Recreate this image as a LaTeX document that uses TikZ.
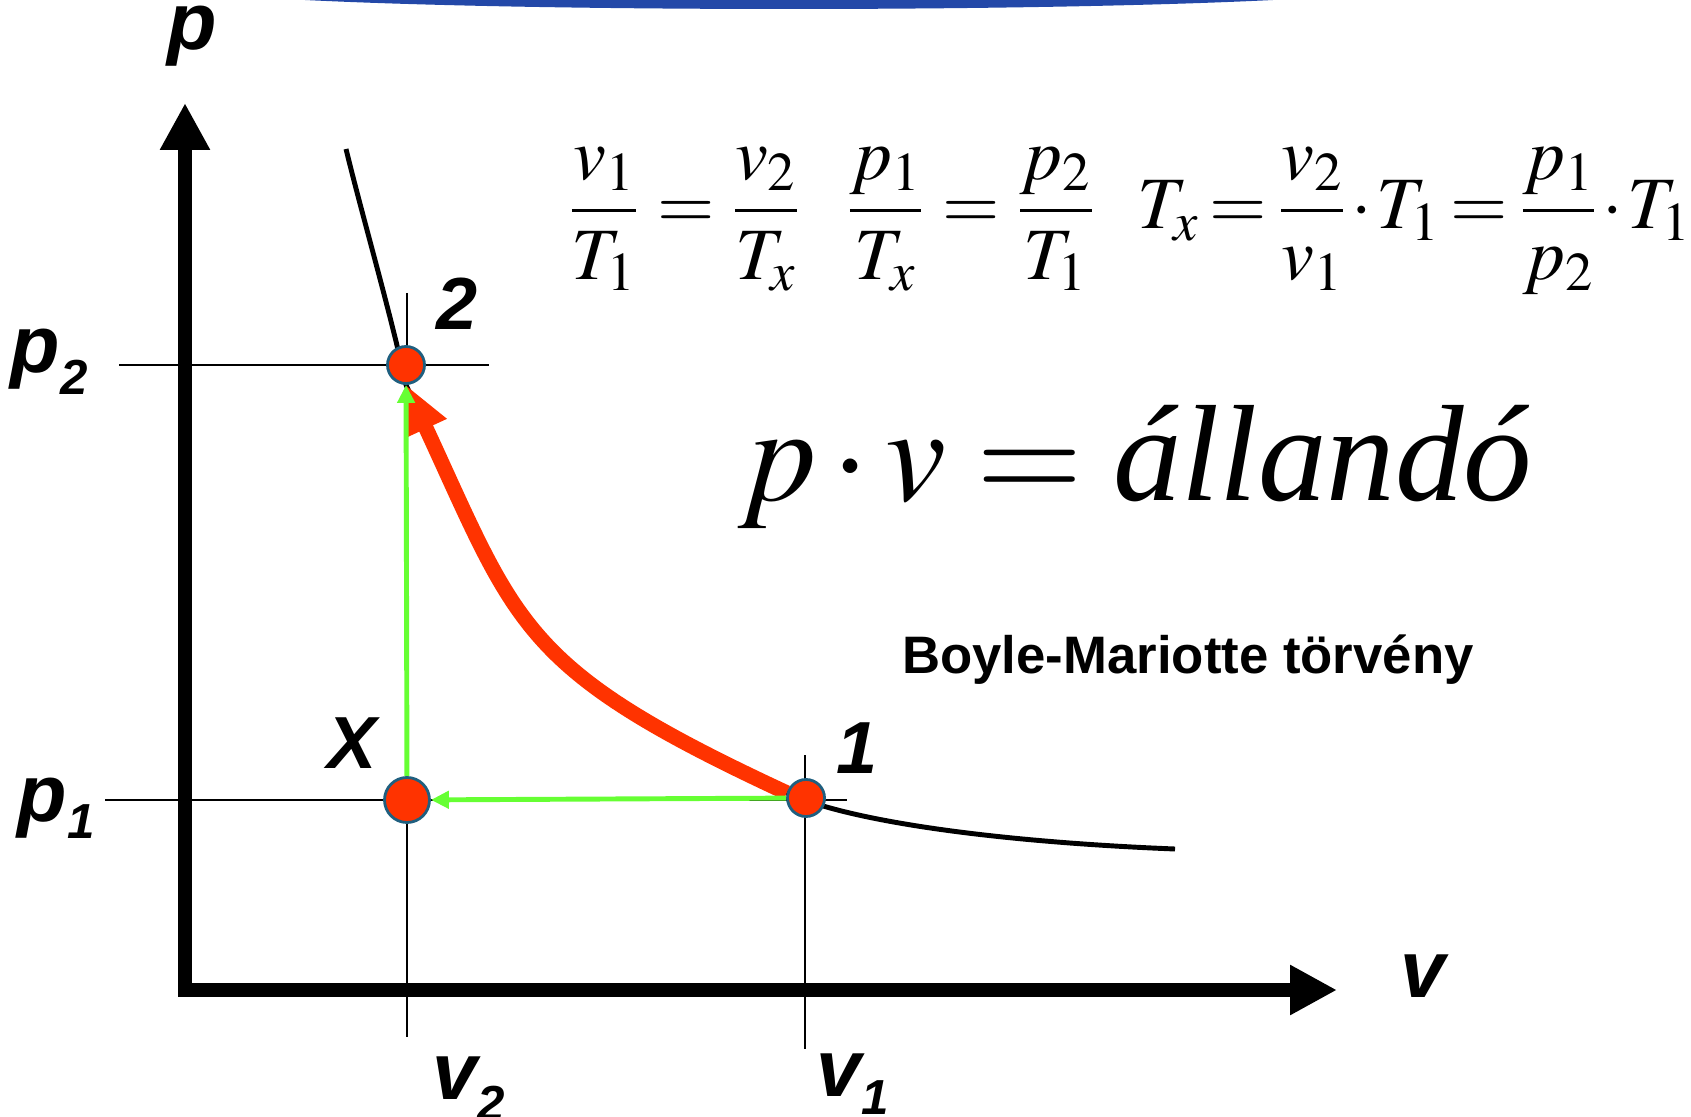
\documentclass[tikz,border=0pt]{standalone}
\usepackage{amsmath}
\usepackage{mathptmx}
\usepackage[no-math]{fontspec}
\setmainfont{Liberation Serif}
\newfontfamily\lsans{Liberation Sans}
\usepackage{xcolor}
\usetikzlibrary{arrows.meta,backgrounds}

\definecolor{dotred}{HTML}{FF3300}
\definecolor{dotrim}{HTML}{1F5F7F}
\definecolor{grn}{HTML}{66FF33}
\definecolor{barblue}{HTML}{2348A8}
\newcommand\eqsp{\thickmuskip=4mu\relax\medmuskip=2mu\relax}
\newcommand\eqtight{\thickmuskip=2.5mu\relax\medmuskip=1mu\relax}

\begin{document}
\begin{tikzpicture}[x=0.1mm, y=-0.1mm,
  dot/.style={circle, fill=dotred, draw=dotrim, line width=0.8pt,
              inner sep=0pt, minimum size=3.7mm},
  lab/.style={inner sep=0pt, font=\lsans\bfseries\itshape\fontsize{23}{23}\selectfont},
  num/.style={lab, font=\lsans\bfseries\itshape\fontsize{21}{21}\selectfont},
  eq/.style={inner sep=0pt, anchor=base west, font=\fontsize{21}{26}\selectfont},
  axis/.style={line width=4pt, line join=miter,
               {Triangle[length=4.7mm, width=4.7mm]}-{Triangle[length=4.7mm, width=4.7mm]}},
  guide/.style={line width=0.6pt},
  iso/.style={line width=1.4pt},
  redarr/.style={-{Triangle[length=4.8mm, width=4.2mm]}, line width=4.3pt, dotred},
  grnarr/.style={-{Triangle[length=1.8mm, width=1.7mm]}, line width=1.4pt, grn}]
\useasboundingbox (0,0) rectangle (1691,1117);

% 顶部蓝条
\begin{scope}
  \clip (0,0) rectangle (1691,1117);
  \fill[barblue] (789,-13) ellipse [x radius=600, y radius=22];
\end{scope}

% 状态点
\node[dot] (s2) at (406,365) {};
\node[dot, minimum size=4.5mm] (sX) at (407,800) {};
\node[dot] (s1) at (806,798) {};

\coordinate (ptip) at (185,103);
\coordinate (O)    at (185,990);
\coordinate (vtip) at (1337,990);

\begin{scope}[on background layer]
% 坐标轴与辅助线
\draw[axis] (ptip) -- (O) -- (vtip);
\draw[guide] (119,365) -- (489,365);
\draw[guide] (105,800) -- (847,800);
\draw[guide] (407,293) -- (407,1037);
\draw[guide] (805,755) -- (805,1049);
% 等温线
\draw[iso] (346,149) .. controls (362,215) and (392,318) .. (s2.south)
  .. controls (518,627) and (520,669) .. (s1.165)
  .. controls (850,822) and (1000,842) .. (1175,849);
\draw[redarr] (s1.165) .. controls (520,669) and (518,627) .. (s2.south);
\draw[grnarr] (s1) -- (sX);
\draw[grnarr] (sX) -- (s2);
\end{scope}

% 轴标签
\node[lab, anchor=base] (plab) at (192,50) {p};
\node[lab, anchor=base] (vlab) at (1423,997) {v};
\node[lab, anchor=base west] (p2lab) at (10,373)
  {p\raisebox{-6pt}{\fontsize{14}{14}\selectfont 2}};
\node[lab, anchor=base west] (p1lab) at (17,821)
  {p\raisebox{-5pt}{\fontsize{14}{14}\selectfont 1}};
\node[lab, anchor=base west] (v2lab) at (432,1099)
  {v\raisebox{-6pt}{\fontsize{14}{14}\selectfont 2}};
\node[lab, anchor=base west] (v1lab) at (816,1096)
  {v\raisebox{-5.4pt}{\fontsize{14}{14}\selectfont 1}};
\node[num, anchor=base] (n2) at (457,330) {2};
\node[num, anchor=base] (n1) at (857,773) {1};
\node[num, anchor=base] (nX) at (352,768) {X};

% 公式
\node[eq] (f1) at (567,229)
  {$\eqsp\dfrac{v_1}{T_1}=\dfrac{v_2}{T_x}$};
\node[eq] (f2) at (845,229)
  {$\eqsp\dfrac{p_1}{T_x}=\dfrac{p_2}{T_1}$};
\node[eq] (f3) at (1137,229)
  {$\eqtight T_x=\dfrac{v_2}{v_1}\cdot T_1=\dfrac{p_1}{p_2}\cdot T_1$};
\node[inner sep=0pt, anchor=base, font=\fontsize{39}{46}\selectfont] (law) at (1135,500)
  {$\eqsp p\cdot v=\textit{állandó}$};
\node[inner sep=0pt, font=\lsans\bfseries\fontsize{15}{18}\selectfont, anchor=base] (name)
  at (1188,673) {Boyle-Mariotte törvény};
\end{tikzpicture}
\end{document}
